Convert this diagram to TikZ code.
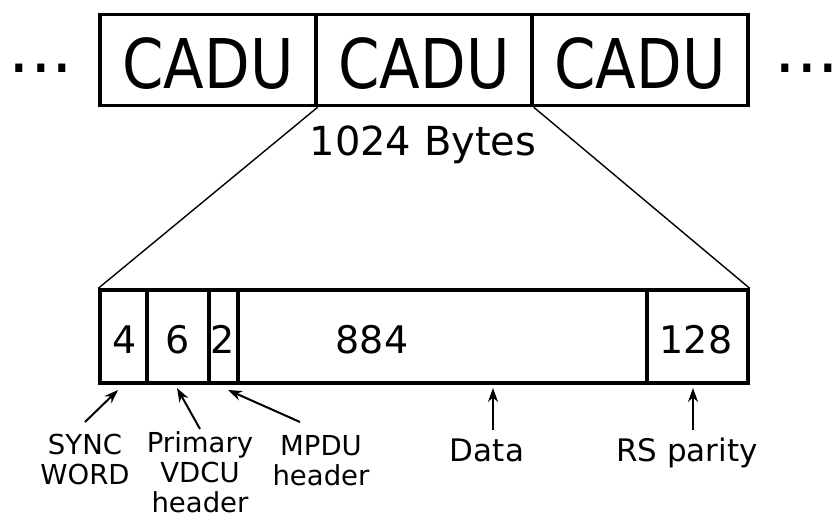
\documentclass[tikz,border=0pt]{standalone}
\usepackage{fontspec}
\setmainfont{DejaVu Sans}
\newfontfamily\narrowfont[FakeStretch=0.865]{DejaVu Sans}
\usetikzlibrary{arrows.meta}
\begin{document}
\begin{tikzpicture}[x=1pt,y=-1pt,
  cell/.style={draw,line width=3.4pt,inner sep=0pt,minimum height=#1},
  big/.style={font=\narrowfont\fontsize{68.6}{80}\selectfont,anchor=base},
  dots/.style={font=\fontsize{68}{80}\selectfont,anchor=base},
  num/.style={font=\fontsize{38}{46}\selectfont,anchor=base},
  lab/.style={font=\fontsize{27.5}{30}\selectfont,align=center},
  lab2/.style={font=\fontsize{31}{36}\selectfont,anchor=base},
  arr/.style={line width=2pt,-{Stealth[length=14pt,width=10pt]}},
  thin/.style={line width=1.4pt}]
\useasboundingbox (0,0) rectangle (832,514);
% top row
\node[cell=91pt,minimum width=216pt] (t1) at (208,60) {};
\node[cell=91pt,minimum width=216pt] (t2) at (424,60) {};
\node[cell=91pt,minimum width=216pt] (t3) at (640,60) {};
\node[big] (c1) at (208,88) {CADU};
\node[big] (c2) at (424,88) {CADU};
\node[big] (c3) at (640,88) {CADU};
\node[dots] (dl) at (41,72) {...};
\node[dots] (dr) at (807,72) {...};
\node[font=\fontsize{40}{48}\selectfont,anchor=base] (bytes) at (423,155) {1024 Bytes};
% bottom row
\node[cell=93pt,minimum width=47pt] (b1) at (123.5,336.5) {};
\node[cell=93pt,minimum width=62pt] (b2) at (178,336.5) {};
\node[cell=93pt,minimum width=29pt] (b3) at (223.5,336.5) {};
\node[cell=93pt,minimum width=409pt] (b4) at (442.5,336.5) {};
\node[cell=93pt,minimum width=101pt] (b5) at (697.5,336.5) {};
\node[num] (n1) at (125,353) {4};
\node[num] (n2) at (178,353) {6};
\node[num] (n3) at (223,353) {2};
\node[num] (n4) at (372,353) {884};
\node[num] (n5) at (696,353) {128};
% zoom lines
\draw[thin] (t1.south east) -- (b1.north west);
\draw[thin] (t2.south east) -- (b5.north east);
% labels
\node[lab] (l1) at (85,459) {SYNC\\WORD};
\node[lab] (l2) at (200,472) {Primary\\VDCU\\header};
\node[lab] (l3) at (321,461) {MPDU\\header};
\node[lab2] (l4) at (487,461) {Data};
\node[lab2] (l5) at (687,461) {RS parity};
% arrow ends
\coordinate (a1s) at (85,422);  \coordinate (a1e) at (118,390);
\coordinate (a2s) at (200,429); \coordinate (a2e) at (177,388);
\coordinate (a3s) at (300,422); \coordinate (a3e) at (228,390);
\coordinate (a4s) at (493,430); \coordinate (a4e) at (493,388);
\coordinate (a5s) at (693,430); \coordinate (a5e) at (693,388);
\draw[arr] (a1s) -- (a1e);
\draw[arr] (a2s) -- (a2e);
\draw[arr] (a3s) -- (a3e);
\draw[arr] (a4s) -- (a4e);
\draw[arr] (a5s) -- (a5e);
\end{tikzpicture}
\end{document}
